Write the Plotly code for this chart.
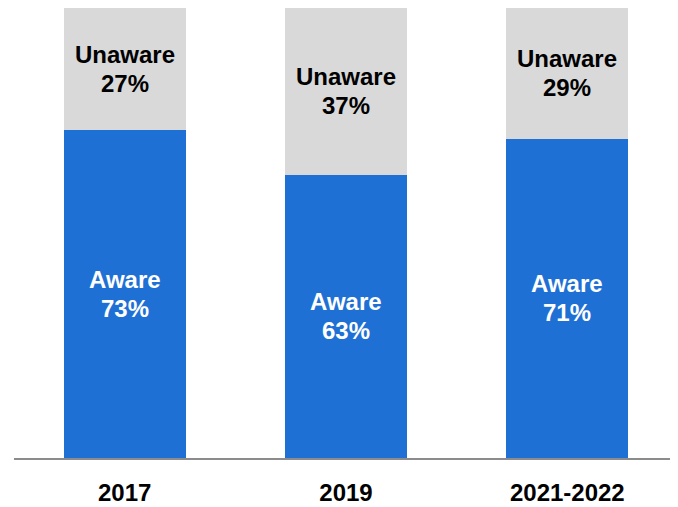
import plotly.graph_objects as go

categories = ["2017", "2019", "2021-2022"]
aware = [73, 63, 71]
unaware = [27, 37, 29]

FONT = "Liberation Sans Narrow, Arial Narrow, Liberation Sans, Arial, sans-serif"
BLUE = "#1F70D5"
GRAY = "#D9D9D9"

fig = go.Figure()
fig.add_bar(x=categories, y=aware, marker=dict(color=BLUE, line=dict(width=0)), hoverinfo="skip")
fig.add_bar(x=categories, y=unaware, marker=dict(color=GRAY, line=dict(width=0)), hoverinfo="skip")

ann = []
for i, (a, u) in enumerate(zip(aware, unaware)):
    for label, val, base, col in (("Aware", a, 0, "white"), ("Unaware", u, a, "black")):
        mid = base + val / 2
        ann.append(dict(x=i, y=mid, text="<b>%s</b>" % label, showarrow=False, yshift=14.5,
                        font=dict(family=FONT, size=24, color=col), xref="x", yref="y"))
        ann.append(dict(x=i, y=mid, text="<b>%d%%</b>" % val, showarrow=False, yshift=-14.5,
                        font=dict(family=FONT, size=24, color=col), xref="x", yref="y"))

fig.update_layout(
    barmode="stack",
    bargap=0.45,
    width=670, height=499,
    margin=dict(l=6, r=0, t=0, b=49, autoexpand=False),
    paper_bgcolor="white", plot_bgcolor="white",
    showlegend=False,
    annotations=ann,
    xaxis=dict(type="category", range=[-0.5, len(categories) - 0.5], showline=True,
               linecolor="#8C8C8C", linewidth=1.5, ticks="",
               tickfont=dict(family=FONT, size=24, color="black"),
               tickprefix="<b>", ticksuffix="</b>", showgrid=False, ticklabelstandoff=12),
    yaxis=dict(range=[0, 100], visible=False, showgrid=False),
)
fig.write_html("out.html")
